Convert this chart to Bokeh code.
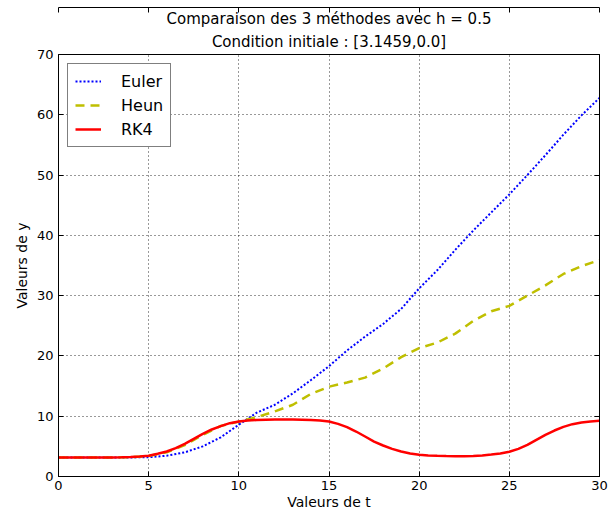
from bokeh.plotting import figure
from bokeh.models import Title, LinearAxis, Legend, LegendItem, FixedTicker
from bokeh.embed import file_html
from bokeh.resources import INLINE

# Euler and Heun read at integer t
t = list(range(0, 31))
euler = [3.15, 3.15, 3.15, 3.15, 3.16, 3.2, 3.45, 4.0, 5.0, 6.5, 8.6, 10.6, 11.9, 13.8, 16.0,
         18.3, 20.9, 23.2, 25.3, 27.8, 31.2, 34.2, 37.6, 40.8, 43.8, 46.8, 50.0, 53.3, 56.7, 59.9, 62.8]
heun = [3.15, 3.15, 3.15, 3.16, 3.2, 3.4, 4.0, 5.2, 6.9, 8.4, 9.1, 9.85, 10.8, 11.9, 13.7,
        14.9, 15.6, 16.4, 17.9, 19.8, 21.3, 22.2, 23.7, 25.8, 27.4, 28.3, 30.0, 31.7, 33.6, 34.9, 35.9]
# RK4 read at half steps (h = 0.5)
t_half = [i * 0.5 for i in range(61)]
rk4 = [3.15, 3.15, 3.15, 3.15, 3.15, 3.15, 3.16, 3.18, 3.22, 3.3,
       3.45, 3.76, 4.15, 4.7, 5.42, 6.25, 7.08, 7.8, 8.35, 8.85,
       9.12, 9.29, 9.38, 9.42, 9.44, 9.45, 9.45, 9.43, 9.38, 9.3,
       9.12, 8.73, 8.18, 7.46, 6.63, 5.8, 5.14, 4.59, 4.15, 3.81,
       3.6, 3.5, 3.43, 3.39, 3.37, 3.37, 3.42, 3.5, 3.65, 3.81,
       4.1, 4.59, 5.25, 6.08, 6.9, 7.63, 8.24, 8.68, 8.95, 9.12, 9.23]

x_ticks = [0, 5, 10, 15, 20, 25, 30]
y_ticks = [0, 10, 20, 30, 40, 50, 60, 70]
title1 = "Comparaison des 3 méthodes avec h = 0.5"
title2 = "Condition initiale : [3.1459,0.0]"

FONT = "DejaVu Sans"

p = figure(frame_width=541, frame_height=422, x_range=(0, 30), y_range=(0, 70),
           output_backend="svg", toolbar_location=None, title_location=None,
           min_border_left=58, min_border_right=9, min_border_top=54, min_border_bottom=0,
           x_axis_label="Valeurs de t", y_axis_label="Valeurs de y")

p.add_layout(Title(text=title2, align="center", text_font=FONT, text_font_size="15px",
                   text_font_style="normal", text_color="black", standoff=7,
                   text_line_height=1.0), "above")
p.add_layout(Title(text=title1, align="center", text_font=FONT, text_font_size="15px",
                   text_font_style="normal", text_color="black", standoff=0,
                   text_line_height=0.9), "above")

p.outline_line_color = "black"
p.outline_line_width = 1
p.background_fill_color = "white"
p.border_fill_color = "white"

for ax in [p.xaxis[0], p.yaxis[0]]:
    ax.major_label_text_font = FONT
    ax.major_label_text_font_size = "13px"
    ax.major_label_text_color = "black"
    ax.axis_label_text_font = FONT
    ax.axis_label_text_font_size = "14px"
    ax.axis_label_text_font_style = "normal"
    ax.axis_label_text_color = "black"
    ax.major_tick_in = 5
    ax.major_tick_out = 0
    ax.minor_tick_in = 0
    ax.minor_tick_out = 0
    ax.axis_line_color = "black"
    ax.major_tick_line_color = "black"
    ax.major_label_standoff = 5
    ax.axis_label_standoff = 4

p.xaxis[0].axis_label_standoff = 1
p.xaxis[0].major_label_standoff = 4
p.xaxis[0].ticker = FixedTicker(ticks=x_ticks)
p.yaxis[0].ticker = FixedTicker(ticks=y_ticks)

top = LinearAxis(ticker=FixedTicker(ticks=x_ticks), major_label_text_font_size="0px",
                 major_label_text_color=None,
                 major_tick_in=5, major_tick_out=0, minor_tick_in=0, minor_tick_out=0,
                 major_label_standoff=0)
right = LinearAxis(ticker=FixedTicker(ticks=y_ticks), major_label_text_font_size="0px",
                   major_label_text_color=None,
                   major_tick_in=5, major_tick_out=0, minor_tick_in=0, minor_tick_out=0,
                   major_label_standoff=0)
p.add_layout(top, "above")
p.add_layout(right, "right")

p.xgrid[0].ticker = FixedTicker(ticks=x_ticks)
p.ygrid[0].ticker = FixedTicker(ticks=y_ticks)
for g in [p.xgrid[0], p.ygrid[0]]:
    g.grid_line_color = "black"
    g.grid_line_dash = "1 3"
    g.grid_line_width = 1
    g.grid_line_alpha = 0.8

r1 = p.line(t, euler, line_color="#0000ff", line_width=2, line_dash="2 2")
r2 = p.line(t, heun, line_color="#bfbf00", line_width=2.5, line_dash="9 6")
r3 = p.line(t_half, rk4, line_color="#ff0000", line_width=2.5)

legend = Legend(items=[LegendItem(label="Euler", renderers=[r1]),
                       LegendItem(label="Heun", renderers=[r2]),
                       LegendItem(label="RK4", renderers=[r3])],
                location="top_left", label_text_font=FONT, label_text_font_size="16px",
                label_text_color="black",
                glyph_width=26, glyph_height=20, label_height=20, label_standoff=20,
                padding=7, spacing=4, margin=9, border_line_color="black",
                border_line_width=1, background_fill_alpha=1)
p.add_layout(legend, "center")

open("out.html", "w").write(file_html(p, INLINE))
